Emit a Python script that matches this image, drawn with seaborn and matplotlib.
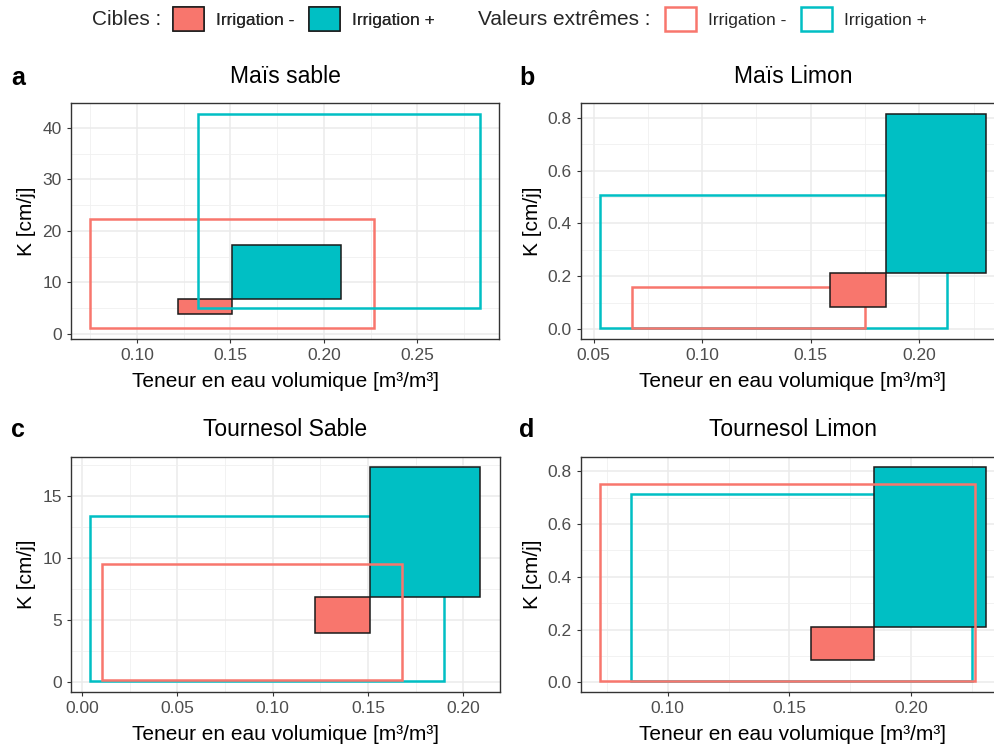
import matplotlib
matplotlib.use("Agg")
import matplotlib.pyplot as plt
import seaborn as sns
from matplotlib.patches import Rectangle, Patch
from matplotlib.ticker import MultipleLocator, AutoMinorLocator, FormatStrFormatter

# ---------------- data ----------------
panel_titles = ["Maïs sable", "Maïs Limon", "Tournesol Sable", "Tournesol Limon"]
panel_letters = ["a", "b", "c", "d"]
group_labels = ["Irrigation -", "Irrigation +"]

# Target ("Cibles") rectangles
tgt_minus_x0 = [0.122, 0.159, 0.122, 0.159]
tgt_minus_x1 = [0.151, 0.1845, 0.151, 0.1845]
tgt_minus_y0 = [3.9, 0.083, 3.9, 0.083]
tgt_minus_y1 = [6.8, 0.211, 6.8, 0.211]
tgt_plus_x0 = [0.151, 0.1845, 0.151, 0.1845]
tgt_plus_x1 = [0.209, 0.2305, 0.209, 0.2305]
tgt_plus_y0 = [6.8, 0.211, 6.8, 0.211]
tgt_plus_y1 = [17.3, 0.815, 17.3, 0.815]

# Extreme values ("Valeurs extrêmes") rectangles
ext_minus_x0 = [0.075, 0.0677, 0.0105, 0.0724]
ext_minus_x1 = [0.227, 0.175, 0.1678, 0.2263]
ext_minus_y0 = [1.1, 0.0025, 0.1, 0.005]
ext_minus_y1 = [22.3, 0.158, 9.52, 0.752]
ext_plus_x0 = [0.1325, 0.0531, 0.0044, 0.0849]
ext_plus_x1 = [0.2836, 0.2126, 0.1897, 0.2247]
ext_plus_y0 = [4.97, 0.0025, 0.05, 0.005]
ext_plus_y1 = [42.7, 0.509, 13.41, 0.714]

x_tick_step = [0.05, 0.05, 0.05, 0.05]
y_tick_step = [10, 0.2, 5, 0.2]
y_tick_fmt = ["%d", "%.1f", "%d", "%.1f"]

x_label = "Teneur en eau volumique [m³/m³]"
y_label = "K [cm/j]"

# ---------------- style ----------------
sns.set_theme(style="whitegrid")
plt.rcParams["font.family"] = ["Liberation Sans", "DejaVu Sans"]

RED = "#F8766D"
TEAL = "#00BFC4"
W, H = 995, 749

fig = plt.figure(figsize=(W / 100, H / 100), dpi=100)
fig.patch.set_facecolor("white")


def px_rect(l, t, r, b):
    return [l / W, 1 - b / H, (r - l) / W, (b - t) / H]


axes_px = [
    (70.7, 103.3, 499.5, 339),
    (581, 103.3, 1005, 339),
    (70.7, 456.7, 500, 691.7),
    (581, 456.7, 1005, 691.7),
]
letter_x = [18, 527, 18, 527]
letter_y = [78, 78, 430, 430]
title_y = [76.7, 76.7, 429, 429]
ylabel_x = [27, 532, 27, 532]
xlabel_y = [381.7, 381.7, 735, 735]

# drawing order per panel (observed layering)
orders = [
    ["ext-", "fill-", "ext+", "fill+"],
    ["ext+", "fill+", "ext-", "fill-"],
    ["ext+", "fill+", "ext-", "fill-"],
    ["ext+", "fill+", "ext-", "fill-"],
]

for i in range(4):
    l, t, r, b = axes_px[i]
    ax = fig.add_axes(px_rect(l, t, r, b))
    ax.set_facecolor("white")

    rects = {
        "fill-": Rectangle((tgt_minus_x0[i], tgt_minus_y0[i]),
                           tgt_minus_x1[i] - tgt_minus_x0[i],
                           tgt_minus_y1[i] - tgt_minus_y0[i],
                           facecolor=RED, edgecolor="#1a1a1a", linewidth=1.1),
        "fill+": Rectangle((tgt_plus_x0[i], tgt_plus_y0[i]),
                           tgt_plus_x1[i] - tgt_plus_x0[i],
                           tgt_plus_y1[i] - tgt_plus_y0[i],
                           facecolor=TEAL, edgecolor="#1a1a1a", linewidth=1.1),
        "ext-": Rectangle((ext_minus_x0[i], ext_minus_y0[i]),
                          ext_minus_x1[i] - ext_minus_x0[i],
                          ext_minus_y1[i] - ext_minus_y0[i],
                          facecolor="none", edgecolor=RED, linewidth=1.8),
        "ext+": Rectangle((ext_plus_x0[i], ext_plus_y0[i]),
                          ext_plus_x1[i] - ext_plus_x0[i],
                          ext_plus_y1[i] - ext_plus_y0[i],
                          facecolor="none", edgecolor=TEAL, linewidth=1.8),
    }
    for k, key in enumerate(orders[i]):
        p = rects[key]
        p.set_zorder(3 + k)
        p.set_joinstyle("miter")
        ax.add_patch(p)

    xs = [tgt_minus_x0[i], tgt_minus_x1[i], tgt_plus_x0[i], tgt_plus_x1[i],
          ext_minus_x0[i], ext_minus_x1[i], ext_plus_x0[i], ext_plus_x1[i]]
    ys = [tgt_minus_y0[i], tgt_minus_y1[i], tgt_plus_y0[i], tgt_plus_y1[i],
          ext_minus_y0[i], ext_minus_y1[i], ext_plus_y0[i], ext_plus_y1[i]]
    xr = max(xs) - min(xs)
    yr = max(ys) - min(ys)
    ax.set_xlim(min(xs) - 0.05 * xr, max(xs) + 0.05 * xr)
    ax.set_ylim(min(ys) - 0.05 * yr, max(ys) + 0.05 * yr)

    ax.xaxis.set_major_locator(MultipleLocator(x_tick_step[i]))
    ax.yaxis.set_major_locator(MultipleLocator(y_tick_step[i]))
    ax.xaxis.set_minor_locator(AutoMinorLocator(2))
    ax.yaxis.set_minor_locator(AutoMinorLocator(2))
    ax.xaxis.set_major_formatter(FormatStrFormatter("%.2f"))
    ax.yaxis.set_major_formatter(FormatStrFormatter(y_tick_fmt[i]))

    ax.set_axisbelow(True)
    ax.grid(which="major", color="#EBEBEB", linewidth=1.1)
    ax.grid(which="minor", color="#F0F0F0", linewidth=0.6)

    ax.tick_params(which="major", direction="out", length=2.7, width=0.8,
                   color="#333333", labelsize=12.5, labelcolor="#4D4D4D",
                   pad=3.8, bottom=True, left=True)
    ax.tick_params(which="minor", length=0)
    for s in ax.spines.values():
        s.set_color("#333333")
        s.set_linewidth(1.0)
        s.set_zorder(10)

    cx = (l + r) / 2
    cy = (t + b) / 2
    fig.text(cx / W, 1 - title_y[i] / H, panel_titles[i], ha="center", va="center",
             fontsize=16.5, color="black")
    fig.text(letter_x[i] / W, 1 - letter_y[i] / H, panel_letters[i],
             ha="center", va="center", fontsize=18, fontweight="bold", color="black")
    fig.text(cx / W, 1 - xlabel_y[i] / H, x_label, ha="center", va="center",
             fontsize=15, color="black")
    fig.text(ylabel_x[i] / W, 1 - cy / H, y_label, ha="center", va="center",
             rotation=90, fontsize=15, color="black")

# ---------------- legend ----------------
leg_fs = 12.5
fs_px = leg_fs * 100 / 72
common = dict(loc="center left", frameon=False, ncol=2, fontsize=leg_fs,
              handlelength=31 / fs_px, handleheight=30 / fs_px,
              handletextpad=12 / fs_px, columnspacing=15 / fs_px,
              borderpad=0, borderaxespad=0)

fig.text(91.7 / W, 1 - 19.5 / H, "Cibles :", ha="left", va="center", fontsize=15)
h1 = [Patch(facecolor=RED, edgecolor="#1a1a1a", linewidth=1.1),
      Patch(facecolor=TEAL, edgecolor="#1a1a1a", linewidth=1.1)]
leg1 = fig.legend(h1, group_labels, bbox_to_anchor=(172.7 / W, 1 - 19 / H), **common)

fig.text(478 / W, 1 - 19.5 / H, "Valeurs extrêmes :", ha="left", va="center", fontsize=15)
h2 = [Patch(facecolor="white", edgecolor=RED, linewidth=1.8),
      Patch(facecolor="white", edgecolor=TEAL, linewidth=1.8)]
leg2 = fig.legend(h2, group_labels, bbox_to_anchor=(665 / W, 1 - 19 / H), **common)
fig.add_artist(leg1)

fig.savefig("out.png", dpi=100, facecolor="white")
